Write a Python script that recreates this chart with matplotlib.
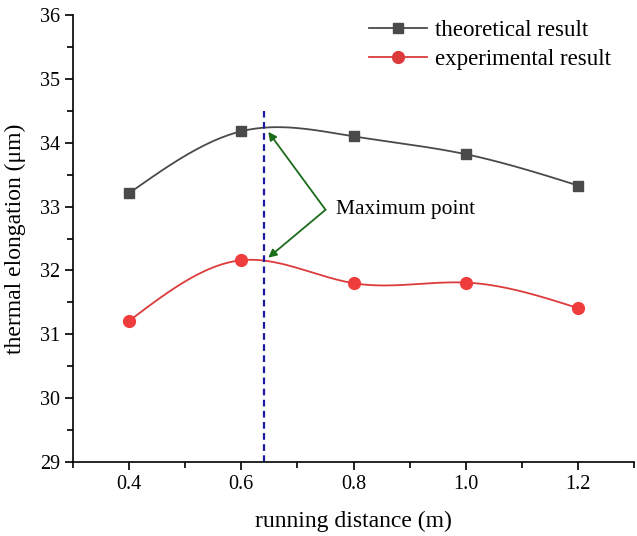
import numpy as np
import matplotlib
matplotlib.use("Agg")
import matplotlib.pyplot as plt
from matplotlib.ticker import MultipleLocator

# data
distance = [0.4, 0.6, 0.8, 1.0, 1.2]
theoretical = [33.21, 34.18, 34.10, 33.82, 33.33]
experimental = [31.21, 32.16, 31.80, 31.81, 31.41]
max_x = 0.64


def natural_spline(x, y, n=200):
    # natural cubic spline, like Origin's "spline" connect line
    x = np.asarray(x, float)
    y = np.asarray(y, float)
    k = len(x)
    h = np.diff(x)
    A = np.zeros((k, k))
    b = np.zeros(k)
    A[0, 0] = A[-1, -1] = 1
    for i in range(1, k - 1):
        A[i, i - 1] = h[i - 1]
        A[i, i] = 2 * (h[i - 1] + h[i])
        A[i, i + 1] = h[i]
        b[i] = 6 * ((y[i + 1] - y[i]) / h[i] - (y[i] - y[i - 1]) / h[i - 1])
    M = np.linalg.solve(A, b)
    xs = np.linspace(x[0], x[-1], n)
    idx = np.clip(np.searchsorted(x, xs) - 1, 0, k - 2)
    x0, x1 = x[idx], x[idx + 1]
    hh = h[idx]
    ys = (M[idx] * (x1 - xs) ** 3 / (6 * hh) + M[idx + 1] * (xs - x0) ** 3 / (6 * hh)
          + (y[idx] / hh - M[idx] * hh / 6) * (x1 - xs)
          + (y[idx + 1] / hh - M[idx + 1] * hh / 6) * (xs - x0))
    return xs, ys


plt.rcParams["font.family"] = ["Liberation Serif", "DejaVu Serif"]

fig = plt.figure(figsize=(6.37, 5.36), dpi=100)
ax = fig.add_axes([0.1146, 0.138, 0.881, 0.834])

gray = "#4a4a4a"
red = "#dc3b3b"

xs, ys = natural_spline(distance, theoretical)
ax.plot(xs, ys, color=gray, lw=1.3)
ax.plot(distance, theoretical, "s", color=gray, ms=7, ls="none")
ax.plot([], [], color=gray, lw=1.3, marker="s", ms=7, label="theoretical result")

xs, ys = natural_spline(distance, experimental)
ax.plot(xs, ys, color=red, lw=1.3)
ax.plot(distance, experimental, "o", color="#ef3d3d", ms=8.5, ls="none")
ax.plot([], [], color=red, lw=1.3, marker="o", ms=8.5, label="experimental result")

ax.plot([max_x, max_x], [29, 34.5], color="#1a1aa0", lw=1.6, ls=(0, (3, 2)))

green = "#1a6b1a"
for tip in [(0.648, 34.17), (0.648, 32.2)]:
    ax.annotate("", xy=tip, xytext=(0.75, 32.95),
                arrowprops=dict(arrowstyle="-|>", color=green, lw=1.3,
                                mutation_scale=12, shrinkA=0, shrinkB=0))
ax.text(0.768, 32.95, "Maximum point", fontsize=15.5, va="center", ha="left",
        bbox=dict(facecolor="white", edgecolor="none", pad=4))

ax.set_xlim(0.3, 1.3)
ax.set_ylim(29, 36)
ax.xaxis.set_minor_locator(MultipleLocator(0.1))
ax.yaxis.set_major_locator(MultipleLocator(1))
ax.yaxis.set_minor_locator(MultipleLocator(0.5))
ax.set_xticks([0.4, 0.6, 0.8, 1.0, 1.2])
ax.set_xticklabels(["0.4", "0.6", "0.8", "1.0", "1.2"])
ax.tick_params(which="major", length=6, width=1.2, labelsize=14.5, direction="out")
ax.tick_params(which="minor", length=4, width=1.2, direction="out")

for s in ["top", "right"]:
    ax.spines[s].set_visible(False)
for s in ["left", "bottom"]:
    ax.spines[s].set_linewidth(1.2)

ax.set_xlabel("running distance (m)", fontsize=17, labelpad=12)
ax.set_ylabel("thermal elongation (μm)", fontsize=17, labelpad=10)

ax.legend(loc="upper right", bbox_to_anchor=(0.995, 1.035), frameon=False, fontsize=16.5,
          handlelength=2.5, handletextpad=0.35, labelspacing=0.35)

fig.savefig("out.png", dpi=100)
